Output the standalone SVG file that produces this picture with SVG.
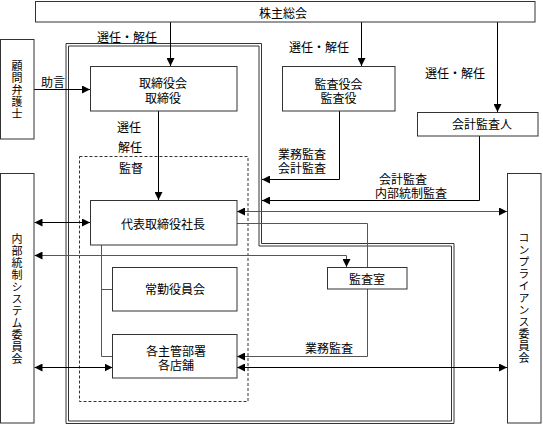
<svg xmlns="http://www.w3.org/2000/svg" width="543" height="425" viewBox="0 0 543 425">
<defs>
<style>
.box{fill:#fff;stroke:#333;stroke-width:1}
.frame{fill:none;stroke:#333;stroke-width:1}
.dash{fill:none;stroke:#333;stroke-width:1;stroke-dasharray:3,2}
.ln{fill:none;stroke:#000;stroke-width:1}
.gl{fill:none;stroke:#555;stroke-width:1}
text{font-family:"Noto Sans CJK JP","Noto Sans",sans-serif;font-size:12px;fill:#000;text-anchor:middle;dominant-baseline:central}
.vt{writing-mode:vertical-rl;text-anchor:start;font-size:11px;letter-spacing:1px}
</style>
<marker id="ah" viewBox="0 0 8 8" refX="8" refY="4" markerWidth="8" markerHeight="8" markerUnits="userSpaceOnUse" orient="auto-start-reverse">
<path d="M0,0 L8,4 L0,8 Z" fill="#000"/>
</marker>
</defs>
<g id="frames">
<path class="frame" d="M66,43.5 H261.5 V243.5 H454 V423.5 H66 Z"/>
<path class="frame" d="M68.5,46 H259 V246 H451.5 V421 H68.5 Z"/>
<rect class="dash" x="79.5" y="156.5" width="168.5" height="245"/>
</g>
<g id="connectors">
<line class="ln" x1="170.5" y1="22" x2="170.5" y2="66" marker-end="url(#ah)"/>
<line class="ln" x1="361.5" y1="22" x2="361.5" y2="66" marker-end="url(#ah)"/>
<line class="ln" x1="497.5" y1="22" x2="497.5" y2="112" marker-end="url(#ah)"/>
<line class="ln" x1="34" y1="89.5" x2="90" y2="89.5" marker-end="url(#ah)"/>
<line class="ln" x1="158.5" y1="111" x2="158.5" y2="200" marker-end="url(#ah)"/>
<polyline class="ln" points="339.5,111 339.5,179.5 262,179.5" marker-end="url(#ah)"/>
<polyline class="ln" points="479.5,136 479.5,200.5 262,200.5" marker-end="url(#ah)"/>
<line class="gl" x1="237" y1="211.5" x2="507" y2="211.5" marker-start="url(#ah)" marker-end="url(#ah)"/>
<polyline class="gl" points="237,223.5 367.5,223.5 367.5,267"/>
<line class="ln" x1="34.5" y1="222.5" x2="90" y2="222.5" marker-start="url(#ah)" marker-end="url(#ah)"/>
<polyline class="gl" points="34.5,255.5 346.5,255.5 346.5,267" marker-start="url(#ah)" marker-end="url(#ah)"/>
<polyline class="gl" points="101.5,245 101.5,356.5 112.5,356.5"/>
<line class="gl" x1="101.5" y1="289.5" x2="112.5" y2="289.5"/>
<polyline class="gl" points="367.5,289 367.5,356.5 237,356.5" marker-end="url(#ah)"/>
<line class="ln" x1="34.5" y1="367.5" x2="112.5" y2="367.5" marker-start="url(#ah)" marker-end="url(#ah)"/>
<line class="ln" x1="237" y1="367.5" x2="507" y2="367.5" marker-start="url(#ah)" marker-end="url(#ah)"/>
<text x="127" y="36">選任・解任</text>
<text x="319" y="46">選任・解任</text>
<text x="455" y="72">選任・解任</text>
<text x="53" y="81">助言</text>
<text x="129" y="126">選任</text>
<text x="130" y="146">解任</text>
<text x="131" y="167">監督</text>
<text><tspan x="302" y="153">業務監査</tspan><tspan x="302" y="167">会計監査</tspan></text>
<text><tspan x="403" y="178">会計監査</tspan><tspan x="411" y="192">内部統制監査</tspan></text>
<text x="329" y="347">業務監査</text>
</g>
<g id="kabunushi">
<rect class="box" x="35.5" y="1.5" width="499.5" height="20.5"/>
<text x="283" y="12">株主総会</text>
</g>
<g id="komon">
<rect class="box" x="0.5" y="39.5" width="33.5" height="99.5"/>
<text class="vt" x="17" y="60">顧問弁護士</text>
</g>
<g id="torishimariyakukai">
<rect class="box" x="90.5" y="66.5" width="146.5" height="44.5"/>
<text><tspan x="163" y="82">取締役会</tspan><tspan x="163" y="97">取締役</tspan></text>
</g>
<g id="kansayakukai">
<rect class="box" x="282.5" y="66.5" width="112.5" height="44.5"/>
<text><tspan x="338.5" y="83">監査役会</tspan><tspan x="338.5" y="97">監査役</tspan></text>
</g>
<g id="kaikeikansanin">
<rect class="box" x="417.5" y="112.5" width="120.5" height="23.5"/>
<text x="482" y="123">会計監査人</text>
</g>
<g id="naibutousei">
<rect class="box" x="0.5" y="173.5" width="33.5" height="249.5"/>
<text class="vt" x="17" y="233">内部統制システム委員会</text>
</g>
<g id="compliance">
<rect class="box" x="507.5" y="173.5" width="33.5" height="249.5"/>
<text class="vt" x="524" y="232">コンプライアンス委員会</text>
</g>
<g id="daihyou">
<rect class="box" x="90.5" y="200.5" width="146.5" height="44.5"/>
<text x="163" y="223">代表取締役社長</text>
</g>
<g id="joukin">
<rect class="box" x="112.5" y="267.5" width="124.5" height="43.5"/>
<text x="175" y="288">常勤役員会</text>
</g>
<g id="kakushukan">
<rect class="box" x="112.5" y="334.5" width="124.5" height="43.5"/>
<text><tspan x="176" y="350">各主管部署</tspan><tspan x="176" y="364">各店舗</tspan></text>
</g>
<g id="kansashitsu">
<rect class="box" x="327.5" y="267.5" width="79.5" height="21.5"/>
<text x="367" y="278">監査室</text>
</g>
</svg>
